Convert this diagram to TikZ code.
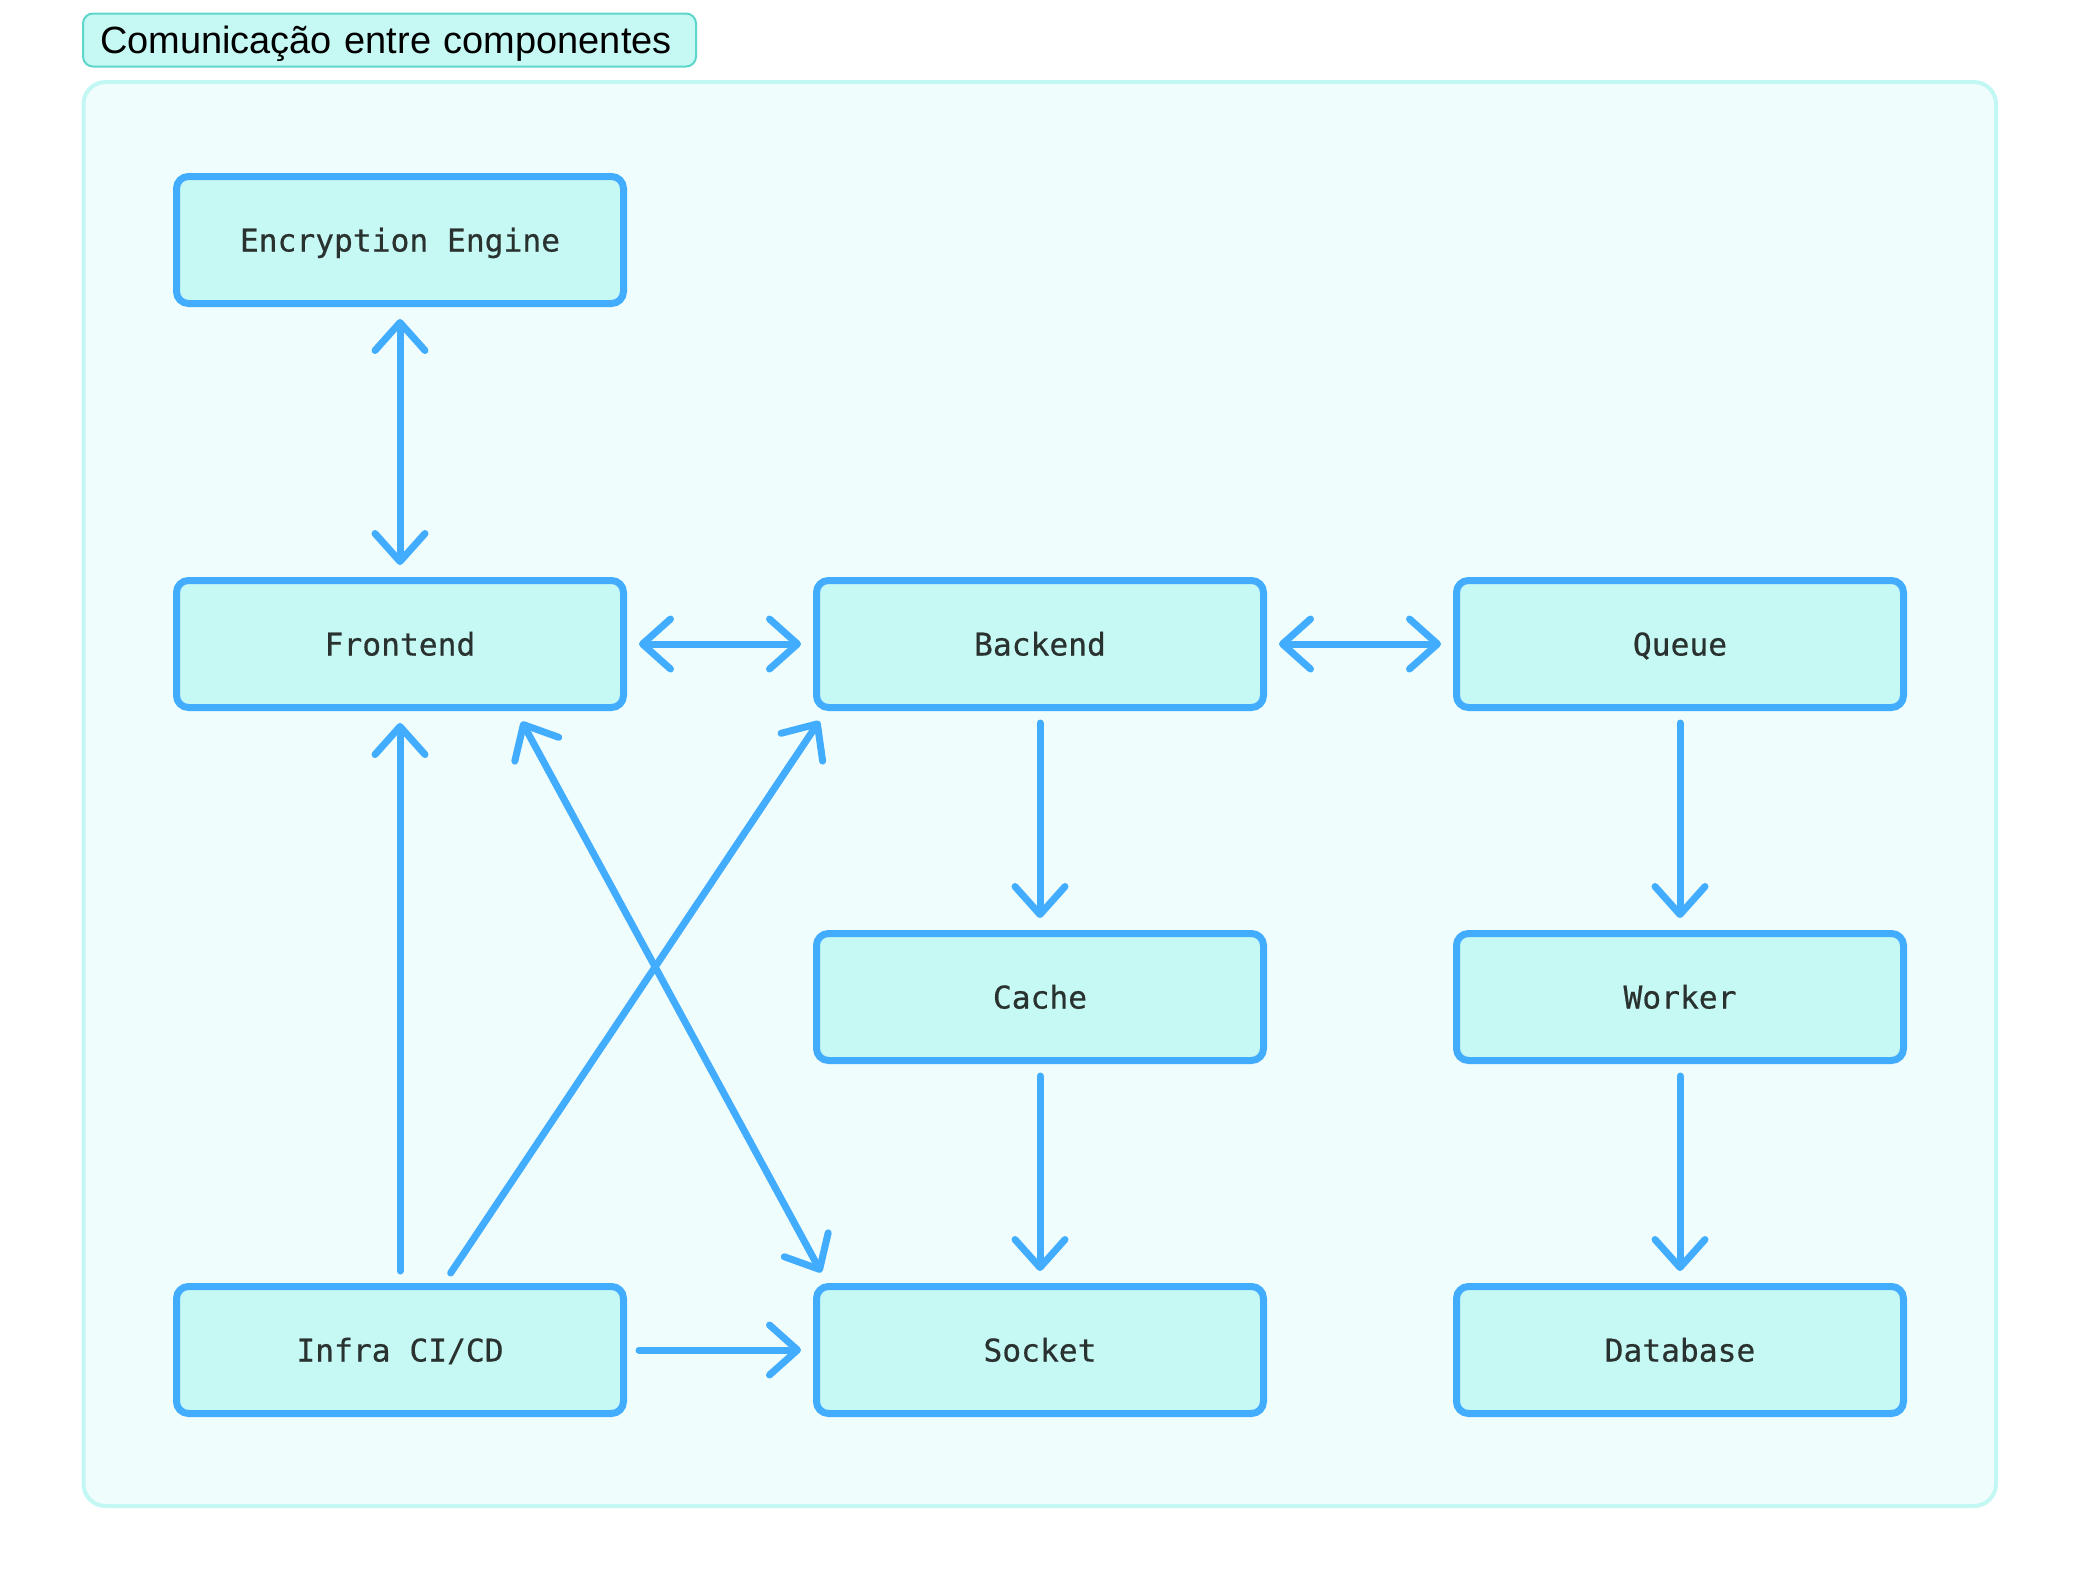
\documentclass[tikz,border=0pt]{standalone}
\usepackage{fontspec}
\setmainfont{Liberation Sans}
\setmonofont{DejaVu Sans Mono}
\newfontfamily\compfont[FakeBold=0.5]{DejaVu Sans Mono}
\usepackage{xcolor}
\usetikzlibrary{arrows.meta,positioning}

\definecolor{linkblue}{HTML}{42ADFF}
\definecolor{compfill}{HTML}{C6F8F4}
\definecolor{inkdark}{HTML}{29322F}
\definecolor{panelfill}{HTML}{F0FDFD}
\definecolor{panelline}{HTML}{C3F7F4}
\definecolor{titleline}{HTML}{5DD6CA}

\begin{document}
\begin{tikzpicture}[node distance=6.4cm,
    >={Straight Barb[length=0.28cm,width=0.5cm,round]}]
  \tikzstyle{comp}=[draw=linkblue, fill=compfill, line width=0.07cm,
    rounded corners=0.12cm, minimum width=4.47cm, minimum height=1.27cm,
    inner sep=0pt, text height=0.23cm, text depth=0pt, text=inkdark,
    font=\compfont\fontsize{8.9}{10}\selectfont]
  \tikzstyle{link}=[draw=linkblue, line width=0.07cm, line cap=round,
    line join=round, shorten >=0.12cm, shorten <=0.12cm]
  \useasboundingbox (0,0) rectangle (20.8,-15.9);
  % panel
  \draw[draw=panelline, fill=panelfill, line width=0.04cm, rounded corners=0.22cm]
    (0.835,-0.82) rectangle (19.96,-15.06);
  \node[draw=titleline, fill=compfill, line width=0.02cm, rounded corners=0.1cm,
    anchor=west, text width=5.79cm, inner xsep=0.17cm, inner ysep=0pt,
    minimum height=0.53cm, text height=0.27cm, text depth=0pt,
    align=left, font=\fontsize{10.8}{12}\selectfont] (title) at (0.82,-0.40)
    {Comunicação entre componentes};

  \node[comp] (frontend) at (4.0,-6.44) {Frontend};
  \node[comp] (encryption) [above of=frontend, node distance=4.04cm] {Encryption Engine};
  \node[comp] (backend) [right of=frontend] {Backend};
  \node[comp] (queue) [right of=backend] {Queue};
  \node[comp] (cache) [below of=backend, node distance=3.53cm] {Cache};
  \node[comp] (worker) [below of=queue, node distance=3.53cm] {Worker};
  \node[comp] (socket) [below of=cache, node distance=3.53cm] {Socket};
  \node[comp] (database) [below of=worker, node distance=3.53cm] {Database};
  \node[comp] (infra) [left of=socket] {Infra CI/CD};

  \path[link]
  (encryption) edge[<->] (frontend)
  (frontend) edge[<->] (backend)
  (backend) edge[<->] (queue)
  (backend) edge[->] (cache)
  (queue) edge[->] (worker)
  (cache) edge[->] (socket)
  (worker) edge[->] (database)
  (infra) edge[->] (frontend)
  (infra) edge[->] (socket)
  ([xshift=0.44cm]infra.north) edge[->] ([xshift=0.13cm]backend.south west)
  ([xshift=1.16cm]frontend.south) edge[<->] ([xshift=0.14cm]socket.north west)
  ;
\end{tikzpicture}
\end{document}
